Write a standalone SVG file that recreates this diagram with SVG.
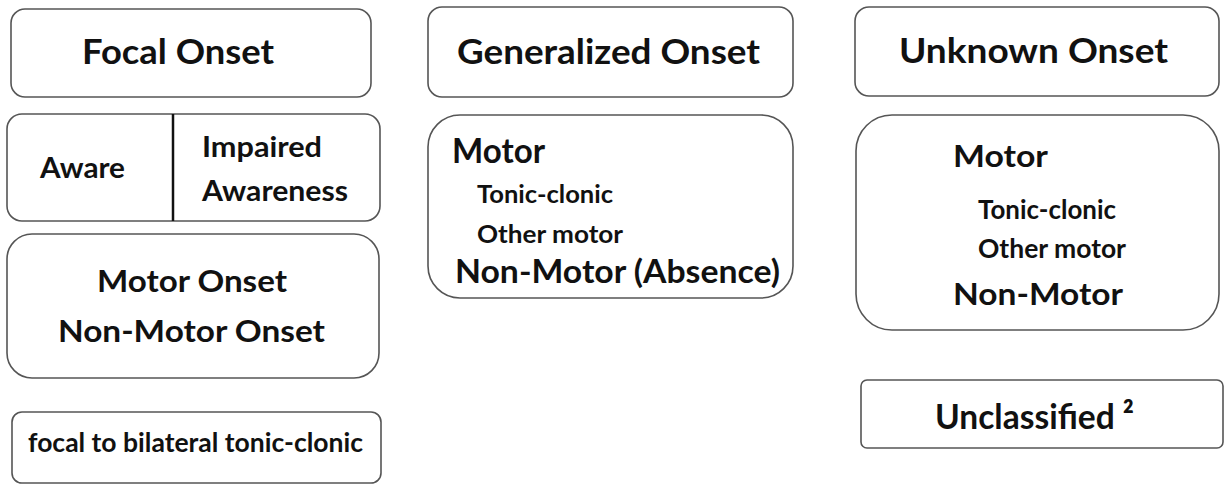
<svg xmlns="http://www.w3.org/2000/svg" width="1225" height="484" viewBox="0 0 1225 484">
<style>
.box{fill:#fff;stroke:#555;stroke-width:1.6}
.t{font-family:Lato,"Open Sans",sans-serif;font-weight:bold;fill:#111}
</style>
<rect width="1225" height="484" fill="#fff"/>
<g id="focal-onset">
<rect class="box" x="11" y="9" width="360" height="88" rx="14"/>
<text class="t" x="82" y="64" font-size="35" textLength="192" lengthAdjust="spacingAndGlyphs">Focal Onset</text>
</g>
<g id="awareness">
<rect class="box" x="7" y="114" width="373" height="107" rx="15"/>
<line x1="173" y1="114" x2="173" y2="221" stroke="#111" stroke-width="2.5"/>
<text class="t" x="40" y="178" font-size="29" textLength="85" lengthAdjust="spacingAndGlyphs">Aware</text>
<text class="t" x="202" y="157" font-size="29" textLength="120" lengthAdjust="spacingAndGlyphs">Impaired</text>
<text class="t" x="202" y="201" font-size="29" textLength="146" lengthAdjust="spacingAndGlyphs">Awareness</text>
</g>
<g id="focal-motor">
<rect class="box" x="7" y="234" width="372" height="144" rx="25"/>
<text class="t" x="97" y="292" font-size="31" textLength="190" lengthAdjust="spacingAndGlyphs">Motor Onset</text>
<text class="t" x="58" y="342" font-size="31" textLength="267" lengthAdjust="spacingAndGlyphs">Non-Motor Onset</text>
</g>
<g id="focal-bilateral">
<rect class="box" x="12" y="412" width="369" height="71" rx="10"/>
<text class="t" x="28" y="452" font-size="26" textLength="335" lengthAdjust="spacingAndGlyphs">focal to bilateral tonic-clonic</text>
</g>
<g id="generalized-onset">
<rect class="box" x="428" y="7" width="365" height="90" rx="14"/>
<text class="t" x="457" y="64" font-size="34" textLength="303" lengthAdjust="spacingAndGlyphs">Generalized Onset</text>
</g>
<g id="generalized-types">
<rect class="box" x="428" y="115" width="365" height="183" rx="32"/>
<text class="t" x="452" y="163" font-size="35" textLength="93" lengthAdjust="spacingAndGlyphs">Motor</text>
<text class="t" x="477" y="203" font-size="25" textLength="136" lengthAdjust="spacingAndGlyphs">Tonic-clonic</text>
<text class="t" x="477" y="243" font-size="25" textLength="146" lengthAdjust="spacingAndGlyphs">Other motor</text>
<text class="t" x="455" y="283" font-size="32" textLength="325" lengthAdjust="spacingAndGlyphs">Non-Motor (Absence)</text>
</g>
<g id="unknown-onset">
<rect class="box" x="855" y="7" width="364" height="89" rx="14"/>
<text class="t" x="899" y="63" font-size="34" textLength="269" lengthAdjust="spacingAndGlyphs">Unknown Onset</text>
</g>
<g id="unknown-types">
<rect class="box" x="856" y="115" width="363" height="215" rx="36"/>
<text class="t" x="953" y="167" font-size="31" textLength="95" lengthAdjust="spacingAndGlyphs">Motor</text>
<text class="t" x="978" y="219" font-size="26" textLength="138" lengthAdjust="spacingAndGlyphs">Tonic-clonic</text>
<text class="t" x="978" y="258" font-size="26" textLength="148" lengthAdjust="spacingAndGlyphs">Other motor</text>
<text class="t" x="953" y="305" font-size="31" textLength="170" lengthAdjust="spacingAndGlyphs">Non-Motor</text>
</g>
<g id="unclassified">
<rect class="box" x="861" y="380" width="362" height="68" rx="6"/>
<text class="t" x="935" y="429" font-size="35" textLength="199" lengthAdjust="spacingAndGlyphs">Unclassified ²</text>
</g>
<g id="connectors"></g>
</svg>
